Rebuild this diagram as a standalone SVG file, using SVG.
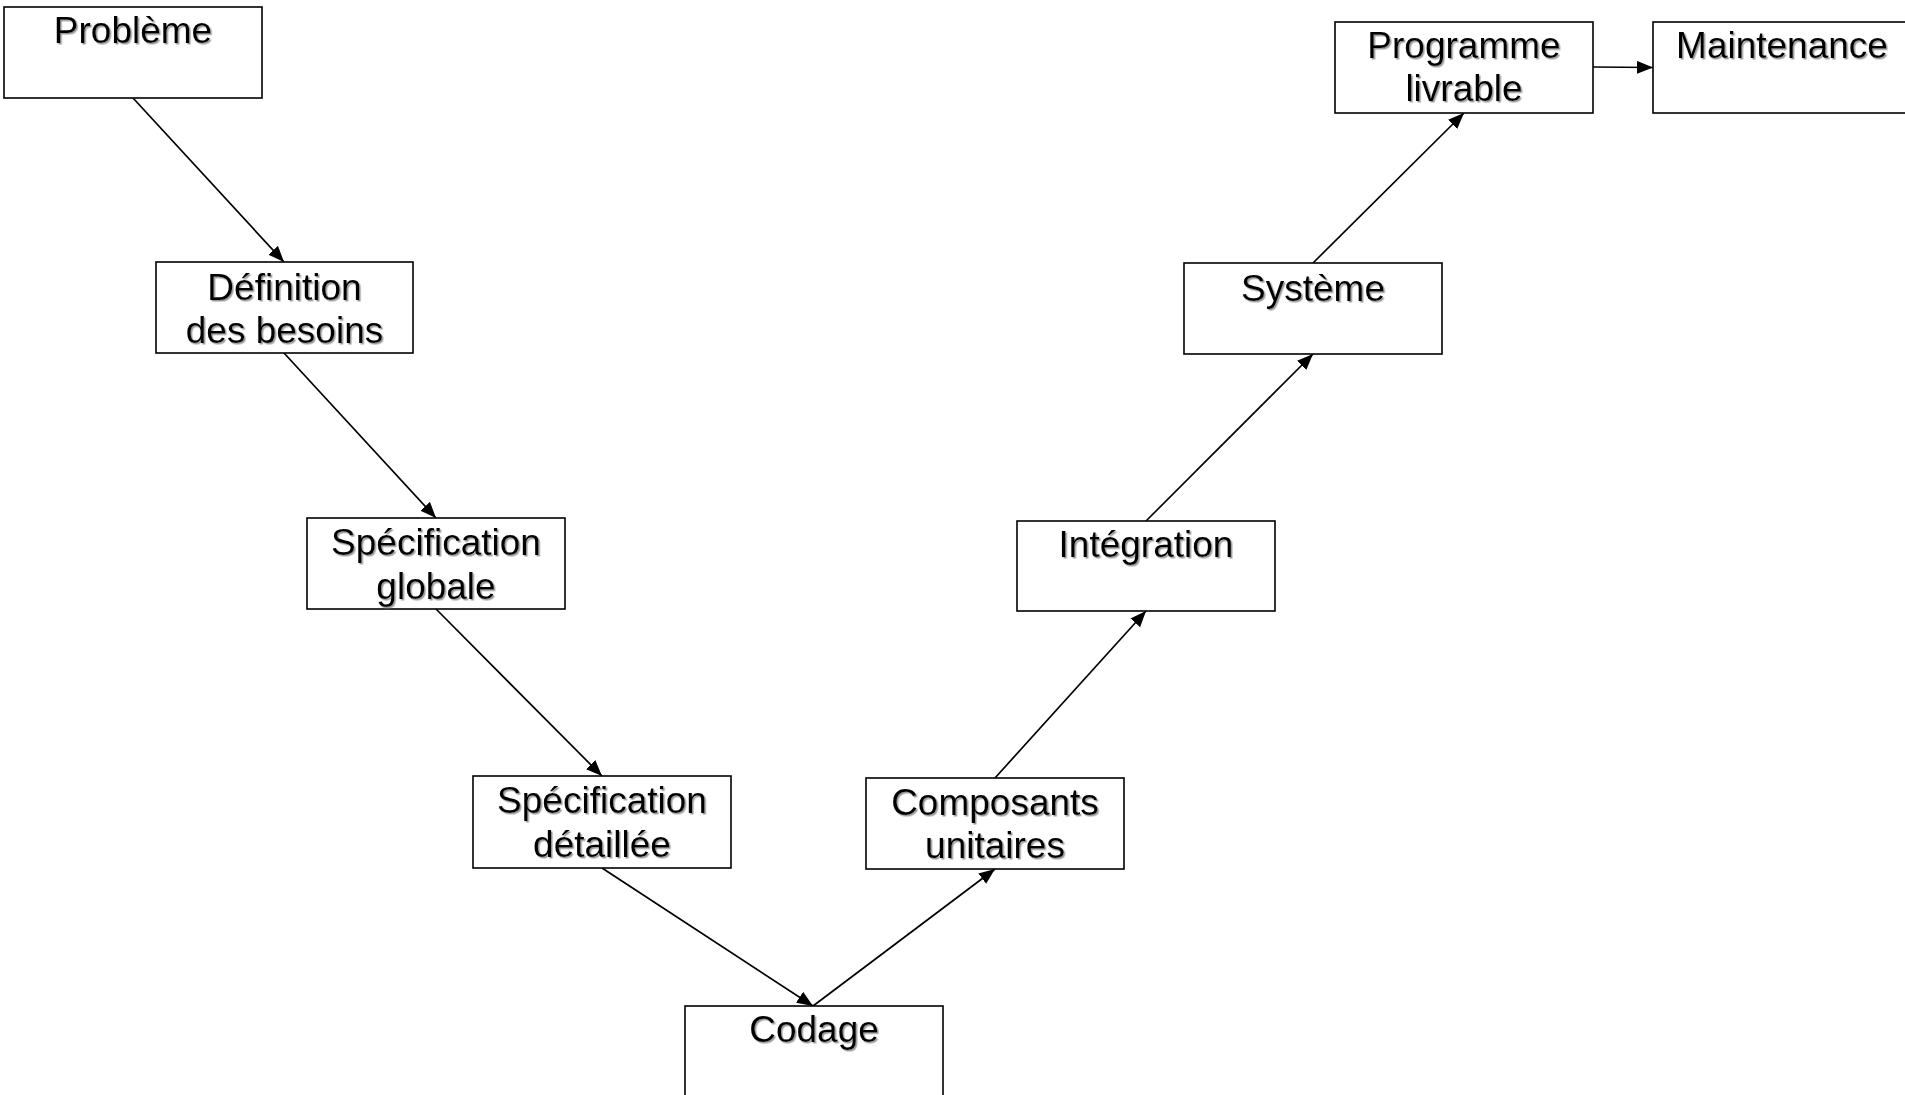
<svg xmlns="http://www.w3.org/2000/svg" width="1905" height="1095" viewBox="0 0 1905 1095">
<defs>
<style>
.box{fill:#fff;stroke:#000;stroke-width:1.6}
.lbl{font-family:"Liberation Sans",Arial,sans-serif;font-size:37px;fill:#000;text-anchor:middle;filter:url(#sh)}
.con{stroke:#000;stroke-width:1.7;fill:none;marker-end:url(#ah)}
</style>
<filter id="sh" x="-10%" y="-20%" width="120%" height="150%">
<feDropShadow dx="1.5" dy="1.5" stdDeviation="0.6" flood-color="#808080" flood-opacity="0.8"/>
</filter>
<marker id="ah" markerUnits="userSpaceOnUse" markerWidth="17" markerHeight="13" refX="16" refY="6.5" orient="auto">
<path d="M0,0 L16,6.5 L0,13 z" fill="#000"/>
</marker>
</defs>
<rect width="1905" height="1095" fill="#fff"/>
<g id="connectors">
<line class="con" x1="133" y1="98" x2="284" y2="262"/>
<line class="con" x1="284" y1="353" x2="436" y2="518"/>
<line class="con" x1="436" y1="609" x2="602" y2="776"/>
<line class="con" x1="602" y1="868" x2="813" y2="1006"/>
<line class="con" x1="813" y1="1006" x2="995" y2="869"/>
<line class="con" x1="995" y1="778" x2="1146" y2="611"/>
<line class="con" x1="1146" y1="521" x2="1313" y2="354"/>
<line class="con" x1="1313" y1="263" x2="1464" y2="113"/>
<line class="con" x1="1593" y1="67" x2="1653" y2="67.5"/>
</g>
<g id="n-probleme">
<rect class="box" x="4" y="7" width="258" height="91"/>
<text class="lbl" x="133" y="43">Problème</text>
</g>
<g id="n-definition">
<rect class="box" x="156" y="262" width="257" height="91"/>
<text class="lbl" x="284.5" y="300">Définition</text>
<text class="lbl" x="284.5" y="343">des besoins</text>
</g>
<g id="n-specglobale">
<rect class="box" x="307" y="518" width="258" height="91"/>
<text class="lbl" x="436" y="555">Spécification</text>
<text class="lbl" x="436" y="599">globale</text>
</g>
<g id="n-specdetail">
<rect class="box" x="473" y="776" width="258" height="92"/>
<text class="lbl" x="602" y="813">Spécification</text>
<text class="lbl" x="602" y="857">détaillée</text>
</g>
<g id="n-codage">
<rect class="box" x="685" y="1006" width="258" height="100"/>
<text class="lbl" x="814" y="1042">Codage</text>
</g>
<g id="n-composants">
<rect class="box" x="866" y="778" width="258" height="91"/>
<text class="lbl" x="995" y="815">Composants</text>
<text class="lbl" x="995" y="858">unitaires</text>
</g>
<g id="n-integration">
<rect class="box" x="1017" y="521" width="258" height="90"/>
<text class="lbl" x="1146" y="557">Intégration</text>
</g>
<g id="n-systeme">
<rect class="box" x="1184" y="263" width="258" height="91"/>
<text class="lbl" x="1313" y="301">Système</text>
</g>
<g id="n-programme">
<rect class="box" x="1335" y="22" width="258" height="91"/>
<text class="lbl" x="1464" y="58">Programme</text>
<text class="lbl" x="1464" y="101">livrable</text>
</g>
<g id="n-maintenance">
<rect class="box" x="1653" y="22" width="258" height="91"/>
<text class="lbl" x="1782" y="58">Maintenance</text>
</g>
</svg>
